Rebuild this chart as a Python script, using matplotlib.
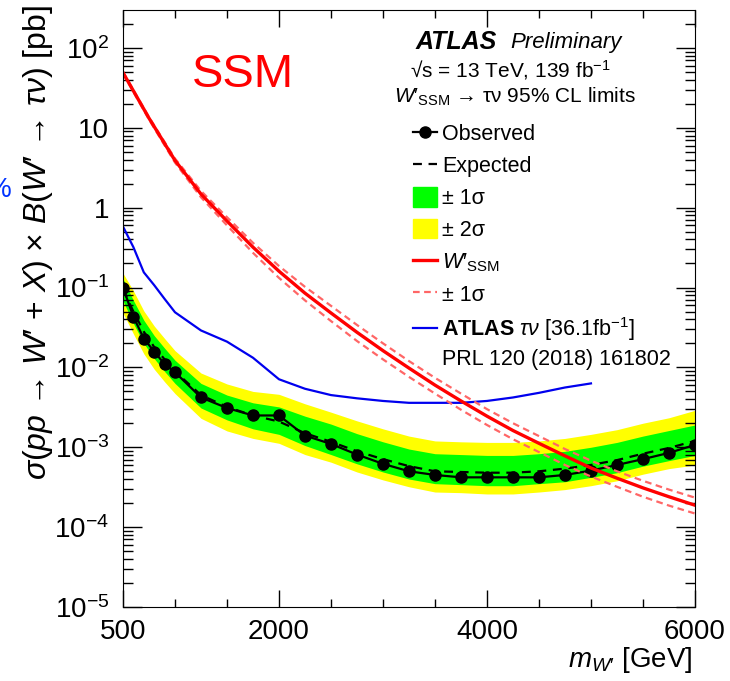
import matplotlib
matplotlib.use("Agg")
import matplotlib.pyplot as plt
from matplotlib.lines import Line2D
from matplotlib.patches import Patch
from matplotlib.ticker import FixedLocator, FuncFormatter, LogLocator, NullFormatter
import numpy as np

plt.rcParams['font.family'] = ['Liberation Sans', 'DejaVu Sans']
plt.rcParams['mathtext.fontset'] = 'custom'
plt.rcParams['mathtext.rm'] = 'Liberation Sans'
plt.rcParams['mathtext.it'] = 'Liberation Sans:italic'
plt.rcParams['mathtext.bf'] = 'Liberation Sans:bold'

# limit points (GeV / pb)
mass = [500, 600, 700, 800, 900, 1000, 1250, 1500, 1750, 2000, 2250, 2500, 2750,
        3000, 3250, 3500, 3750, 4000, 4250, 4500, 4750, 5000, 5250, 5500, 5750, 6000]
observed = [0.1, 0.043, 0.023, 0.0158, 0.011, 0.0087, 0.0042, 0.0031, 0.0025, 0.0025,
            0.0014, 0.0011, 0.00081, 0.00062, 0.0005, 0.00045, 0.00042, 0.00042, 0.00042,
            0.00042, 0.00045, 0.00051, 0.0006, 0.00071, 0.00085, 0.00107]
expected = [0.095, 0.05, 0.028, 0.018, 0.0126, 0.0089, 0.0045, 0.0032, 0.0025, 0.0021,
            0.0015, 0.00117, 0.00089, 0.00071, 0.00058, 0.0005, 0.00049, 0.00048, 0.00048,
            0.0005, 0.00054, 0.0006, 0.00069, 0.00083, 0.00098, 0.0012]
exp_1s_up = [0.129, 0.069, 0.039, 0.025, 0.0174, 0.0123, 0.0063, 0.0045, 0.0036, 0.0032,
             0.00245, 0.00195, 0.00148, 0.00117, 0.00095, 0.00083, 0.00081, 0.00079, 0.00079,
             0.00083, 0.00089, 0.001, 0.00115, 0.00138, 0.00162, 0.0019]
exp_1s_dn = [0.068, 0.0355, 0.02, 0.0129, 0.0089, 0.0063, 0.0031, 0.0022, 0.0017, 0.00145,
             0.00105, 0.00081, 0.00062, 0.00049, 0.0004, 0.00035, 0.00034, 0.00033, 0.00033,
             0.00035, 0.00037, 0.00042, 0.00048, 0.00058, 0.00068, 0.00079]
exp_2s_up = [0.151, 0.091, 0.051, 0.033, 0.023, 0.0162, 0.0085, 0.0062, 0.005, 0.0046,
             0.0035, 0.00275, 0.00214, 0.0017, 0.00138, 0.0012, 0.00117, 0.00115, 0.00115,
             0.0012, 0.00129, 0.00145, 0.00166, 0.002, 0.00234, 0.0029]
exp_2s_dn = [0.048, 0.0263, 0.0148, 0.0095, 0.0066, 0.0047, 0.0023, 0.0016, 0.00129, 0.00112,
             0.00081, 0.00065, 0.00049, 0.00039, 0.00032, 0.000275, 0.00027, 0.00026, 0.00026,
             0.000275, 0.000295, 0.00033, 0.00038, 0.00046, 0.00054, 0.0006]

# SSM theory cross section
ssm_mass = [500, 750, 1000, 1250, 1500, 1750, 2000, 2250, 2500, 2750, 3000, 3250,
            3500, 3750, 4000, 4250, 4500, 4750, 5000, 5250, 5500, 5750, 6000]
ssm_xsec = [49, 13.2, 3.9, 1.48, 0.68, 0.32, 0.16, 0.085, 0.048, 0.0275, 0.0162, 0.0098,
            0.006, 0.0038, 0.00245, 0.00162, 0.00112, 0.00078, 0.00055, 0.00041, 0.00031,
            0.00024, 0.000188]
ssm_up = [50.1, 13.6, 4.12, 1.62, 0.76, 0.363, 0.186, 0.102, 0.059, 0.034, 0.02, 0.012,
          0.0074, 0.0047, 0.003, 0.002, 0.00138, 0.00095, 0.00068, 0.0005, 0.00038,
          0.000295, 0.000234]
ssm_dn = [47.9, 12.7, 3.67, 1.35, 0.6, 0.272, 0.132, 0.069, 0.038, 0.0214, 0.0126, 0.0076,
          0.0047, 0.00295, 0.0019, 0.00126, 0.00087, 0.0006, 0.00043, 0.00032, 0.00024,
          0.000186, 0.000148]

# previous ATLAS result, 36.1 fb-1
old_mass = [500, 600, 700, 800, 900, 1000, 1250, 1500, 1750, 2000, 2250, 2500, 2750,
            3000, 3250, 3500, 3750, 4000, 4250, 4500, 4750, 5000]
old_limit = [0.58, 0.32, 0.155, 0.107, 0.072, 0.049, 0.029, 0.021, 0.0132, 0.0071, 0.0054,
             0.0045, 0.0041, 0.0038, 0.0036, 0.0036, 0.0036, 0.0038, 0.0042, 0.0048,
             0.0056, 0.0063]

fig = plt.figure(figsize=(7.3, 6.81), dpi=100)
ax = fig.add_axes([0.1685, 0.1087, 0.7835, 0.8766])

ax.fill_between(mass, exp_2s_dn, exp_2s_up, color='#ffff00', lw=0)
ax.fill_between(mass, exp_1s_dn, exp_1s_up, color='#00ff00', lw=0)
ax.plot(mass, expected, color='black', ls=(0, (4, 3)), lw=1.6)
ax.plot(mass, observed, color='black', lw=1.6, marker='o', ms=8)
ax.plot(old_mass, old_limit, color='#0000ee', lw=1.6)
ax.plot(ssm_mass, ssm_up, color='#ff6666', ls=(0, (3, 2)), lw=1.6)
ax.plot(ssm_mass, ssm_dn, color='#ff6666', ls=(0, (3, 2)), lw=1.6)
ax.plot(ssm_mass, ssm_xsec, color='#ff0000', lw=2.4)

ax.set_yscale('log')
ax.set_xlim(500, 6000)
ax.set_ylim(1e-5, 10 ** 2.475)

ax.xaxis.set_major_locator(FixedLocator([500, 2000, 4000, 6000]))
ax.xaxis.set_minor_locator(FixedLocator(np.arange(1000, 6000, 500)))
ax.yaxis.set_major_locator(LogLocator(base=10, numticks=20))
ax.yaxis.set_minor_locator(LogLocator(base=10, subs=np.arange(2, 10), numticks=20))
ax.yaxis.set_minor_formatter(NullFormatter())


def ylab(v, pos):
    e = int(round(np.log10(v)))
    if e == 0:
        return '1'
    if e == 1:
        return '10'
    return r'$\mathregular{10^{%d}}$' % e


ax.yaxis.set_major_formatter(FuncFormatter(ylab))
ax.tick_params(which='both', direction='in', top=True, right=True, labelsize=20, width=1)
ax.tick_params(axis='x', which='major', length=12, pad=9)
ax.tick_params(axis='x', which='minor', length=6)
ax.tick_params(axis='y', which='major', length=14, pad=10)
ax.tick_params(axis='y', which='minor', length=7)

fig.text(0.052, 0.993, r"$\sigma$($pp$ → $W\prime$ + $X$) × $B$($W\prime$ → $\tau\nu$) [pb]",
         rotation=90, ha='center', va='top', fontsize=23)
fig.text(0.949, 0.031, r"$m_{W\prime}$ [GeV]", ha='right', va='center', fontsize=20)
fig.text(0.0164, 0.721, '%', color='#0033ff', ha='right', va='center', fontsize=20)

ax.text(0.21, 0.891, 'SSM', color='red', fontsize=34, ha='center', va='center',
        transform=ax.transAxes)
ax.text(0.511, 0.946, 'ATLAS', fontsize=18, fontweight='bold', style='italic',
        ha='left', va='center', transform=ax.transAxes)
ax.text(0.678, 0.946, 'Preliminary', fontsize=16, style='italic',
        ha='left', va='center', transform=ax.transAxes)
ax.text(0.677, 0.900, '√s = 13 TeV, 139 fb$^{\\mathregular{-1}}$', fontsize=15,
        ha='center', va='center', transform=ax.transAxes)
ax.text(0.685, 0.854, "$W\\prime_{\\mathregular{SSM}}$ → τν 95% CL limits", fontsize=15,
        ha='center', va='center', transform=ax.transAxes)
ax.text(0.558, 0.414, 'PRL 120 (2018) 161802', fontsize=15.5,
        ha='left', va='center', transform=ax.transAxes)

handles = [
    Line2D([], [], color='black', lw=1.6, marker='o', ms=8),
    Line2D([], [], color='black', lw=1.6, ls=(0, (4, 3))),
    Patch(color='#00ff00'),
    Patch(color='#ffff00'),
    Line2D([], [], color='#ff0000', lw=2.4),
    Line2D([], [], color='#ff6666', lw=1.6, ls=(0, (3, 2))),
    Line2D([], [], color='#0000ee', lw=1.6),
]
labels = ['Observed', 'Expected', '± 1σ', '± 2σ',
          "$W\\prime_{\\mathregular{SSM}}$", '± 1σ',
          r'$\mathbf{ATLAS}$ $\tau\nu$ [36.1fb$^{\mathregular{-1}}$]']
ax.legend(handles, labels, loc='upper left', bbox_to_anchor=(0.507, 0.81), frameon=False,
          fontsize=15.5, handlelength=1.12, handleheight=1.0, handletextpad=0.25,
          labelspacing=0.46, borderpad=0, borderaxespad=0)

fig.savefig('out.png', dpi=100)
